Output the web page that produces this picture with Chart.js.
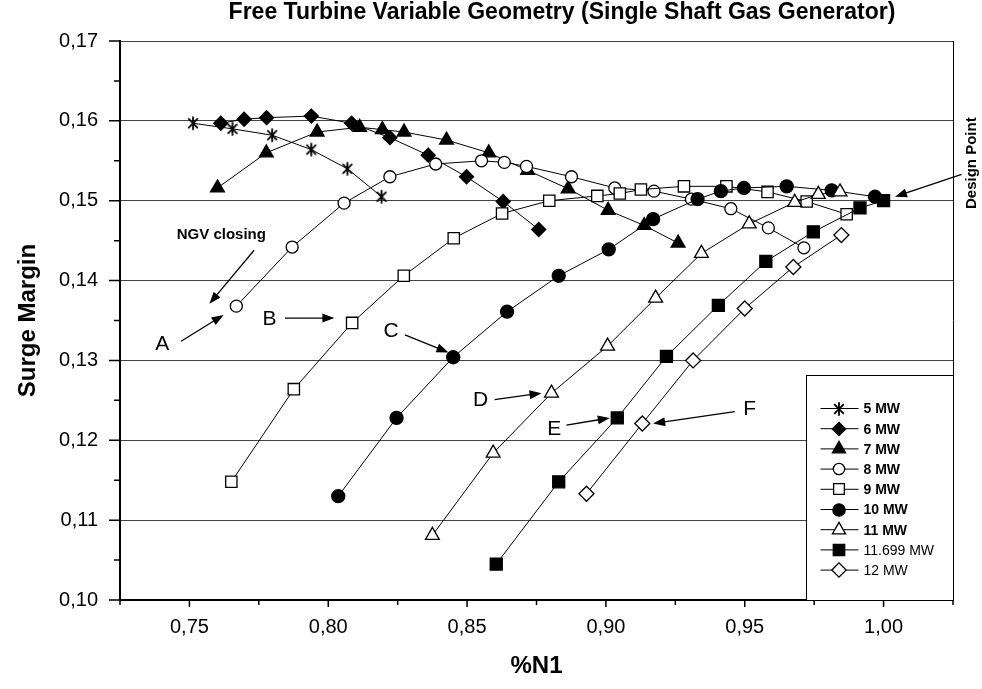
<!DOCTYPE html>
<html>
<head>
<meta charset="utf-8">
<title>Free Turbine Variable Geometry</title>
<script src="https://cdn.jsdelivr.net/npm/chart.js@4.4.1/dist/chart.umd.min.js"></script>
<style>
  html, body { margin: 0; padding: 0; background: #fff; }
</style>
</head>
<body>
<canvas id="myChart" width="982" height="689"></canvas>
<script>
// axis ticks
const n1Ticks = [0.75, 0.80, 0.85, 0.90, 0.95, 1.00];
const marginTicks = [0.10, 0.11, 0.12, 0.13, 0.14, 0.15, 0.16, 0.17];

// series
const seriesLabels = ['5 MW', '6 MW', '7 MW', '8 MW', '9 MW', '10 MW', '11 MW', '11.699 MW', '12 MW'];

const n1_5MW = [0.7513, 0.7655, 0.7798, 0.7939, 0.8069, 0.8192];
const sm_5MW = [0.1597, 0.1590, 0.1582, 0.1564, 0.1540, 0.1505];

const n1_6MW = [0.7613, 0.7697, 0.7778, 0.7939, 0.8084, 0.8222, 0.8360, 0.8498, 0.8630, 0.8758];
const sm_6MW = [0.1597, 0.1602, 0.1604, 0.1606, 0.1597, 0.1579, 0.1557, 0.1530, 0.1499, 0.1464];

const n1_7MW = [0.7601, 0.7777, 0.7960, 0.8113, 0.8195, 0.8273, 0.8426, 0.8578, 0.8718, 0.8864, 0.9008, 0.9138, 0.9260];
const sm_7MW = [0.1516, 0.1560, 0.1586, 0.1592, 0.1589, 0.1586, 0.1576, 0.1560, 0.1538, 0.1515, 0.1488, 0.1469, 0.1447];

const n1_8MW = [0.7669, 0.7870, 0.8057, 0.8222, 0.8387, 0.8552, 0.8634, 0.8714, 0.8876, 0.9032, 0.9173, 0.9308, 0.9450, 0.9585, 0.9713];
const sm_8MW = [0.1368, 0.1442, 0.1497, 0.1530, 0.1546, 0.1550, 0.1548, 0.1543, 0.1530, 0.1516, 0.1512, 0.1502, 0.1490, 0.1466, 0.1441];

const n1_9MW = [0.7651, 0.7876, 0.8086, 0.8272, 0.8452, 0.8626, 0.8796, 0.8969, 0.9050, 0.9126, 0.9281, 0.9434, 0.9582, 0.9723, 0.9867];
const sm_9MW = [0.1148, 0.1264, 0.1347, 0.1406, 0.1453, 0.1484, 0.1500, 0.1506, 0.1509, 0.1514, 0.1518, 0.1518, 0.1511, 0.1499, 0.1483];

const n1_10MW = [0.8036, 0.8246, 0.8450, 0.8644, 0.8830, 0.9010, 0.9170, 0.9330, 0.9414, 0.9497, 0.9651, 0.9813, 0.9969];
const sm_10MW = [0.1130, 0.1228, 0.1304, 0.1361, 0.1406, 0.1439, 0.1477, 0.1502, 0.1512, 0.1516, 0.1518, 0.1513, 0.1505];

const n1_11MW = [0.8375, 0.8594, 0.8804, 0.9006, 0.9179, 0.9344, 0.9516, 0.9680, 0.9765, 0.9843];
const sm_11MW = [0.1081, 0.1184, 0.1259, 0.1318, 0.1378, 0.1434, 0.1471, 0.1498, 0.1508, 0.1511];

const n1_11699MW = [0.8605, 0.8830, 0.9041, 0.9218, 0.9405, 0.9576, 0.9747, 0.9915, 1.0000];
const sm_11699MW = [0.1045, 0.1148, 0.1228, 0.1305, 0.1369, 0.1424, 0.1461, 0.1491, 0.1500];

const n1_12MW = [0.8930, 0.9131, 0.9314, 0.9500, 0.9675, 0.9848];
const sm_12MW = [0.1133, 0.1221, 0.1300, 0.1365, 0.1417, 0.1457];

const seriesN1 = [n1_5MW, n1_6MW, n1_7MW, n1_8MW, n1_9MW, n1_10MW, n1_11MW, n1_11699MW, n1_12MW];
const seriesSM = [sm_5MW, sm_6MW, sm_7MW, sm_8MW, sm_9MW, sm_10MW, sm_11MW, sm_11699MW, sm_12MW];

// asterisk marker (vertical + X)
function makeAsterisk() {
  const c = document.createElement('canvas');
  c.width = 16; c.height = 16;
  const g = c.getContext('2d');
  g.strokeStyle = '#000';
  g.lineWidth = 1.8;
  const a = 6.8, d = a * Math.SQRT1_2;
  g.beginPath();
  g.moveTo(8, 8 - a); g.lineTo(8, 8 + a);
  g.moveTo(8 - d, 8 - d); g.lineTo(8 + d, 8 + d);
  g.moveTo(8 - d, 8 + d); g.lineTo(8 + d, 8 - d);
  g.stroke();
  return c;
}
const asterisk = makeAsterisk();

const markers = [
  { style: asterisk, fill: '#000', r: 7 },
  { style: 'rectRot', fill: '#000', r: 7 },
  { style: 'triangle', fill: '#000', r: 8 },
  { style: 'circle', fill: '#fff', r: 6 },
  { style: 'rect', fill: '#fff', r: 8 },
  { style: 'circle', fill: '#000', r: 6.5 },
  { style: 'triangle', fill: '#fff', r: 8 },
  { style: 'rect', fill: '#000', r: 8.5 },
  { style: 'rectRot', fill: '#fff', r: 7.5 }
];
const boldLegend = [true, true, true, true, true, true, true, false, false];

const datasets = seriesLabels.map((label, i) => ({
  label: label,
  data: seriesN1[i].map((x, k) => ({ x: x, y: seriesSM[i][k] })),
  showLine: true,
  borderColor: '#000',
  borderWidth: 1,
  pointStyle: markers[i].style,
  pointRadius: markers[i].r,
  pointBackgroundColor: markers[i].fill,
  pointBorderColor: '#000',
  pointBorderWidth: 1.3,
  order: seriesLabels.length - i
}));

const notes = [
  { text: 'NGV closing', at: [0.7615, 0.1457], font: 'bold 15px Arial', from: [0.7733, 0.1438], to: [0.7572, 0.1371] },
  { text: 'A', at: [0.7402, 0.1320], font: '21px Arial', from: [0.7470, 0.1324], to: [0.7623, 0.1357] },
  { text: 'B', at: [0.7788, 0.1352], font: '21px Arial', from: [0.7844, 0.1353], to: [0.8022, 0.1353] },
  { text: 'C', at: [0.8226, 0.1337], font: '21px Arial', from: [0.8276, 0.1332], to: [0.8433, 0.1310] },
  { text: 'D', at: [0.8549, 0.1250], font: '21px Arial', from: [0.8599, 0.1251], to: [0.8768, 0.1259] },
  { text: 'E', at: [0.8814, 0.1214], font: '21px Arial', from: [0.8858, 0.1219], to: [0.9014, 0.1228] },
  { text: 'F', at: [0.9518, 0.1239], font: '21px Arial', from: [0.9464, 0.1236], to: [0.9170, 0.1221] },
  { text: 'Design Point', at: [1.0317, 0.1547], font: 'bold 15px Arial', rotate: true, from: [1.0281, 0.1533], to: [1.0041, 0.1505] }
];

function fmt(v) { return v.toFixed(2).replace('.', ','); }

function arrow(ctx, x1, y1, x2, y2) {
  const ang = Math.atan2(y2 - y1, x2 - x1);
  const hl = 12, hw = 4.5;
  ctx.beginPath();
  ctx.moveTo(x1, y1);
  ctx.lineTo(x2 - Math.cos(ang) * hl * 0.8, y2 - Math.sin(ang) * hl * 0.8);
  ctx.stroke();
  ctx.beginPath();
  ctx.moveTo(x2, y2);
  ctx.lineTo(x2 - Math.cos(ang) * hl - Math.sin(ang) * hw, y2 - Math.sin(ang) * hl + Math.cos(ang) * hw);
  ctx.lineTo(x2 - Math.cos(ang) * hl + Math.sin(ang) * hw, y2 - Math.sin(ang) * hl - Math.cos(ang) * hw);
  ctx.closePath();
  ctx.fill();
}

const decorations = {
  id: 'decorations',
  afterDraw(chart) {
    const ctx = chart.ctx;
    const xs = chart.scales.x, ys = chart.scales.y;
    const area = chart.chartArea;
    ctx.save();

    // title
    ctx.fillStyle = '#000';
    ctx.font = 'bold 23px Arial';
    ctx.textAlign = 'center';
    ctx.textBaseline = 'middle';
    ctx.fillText('Free Turbine Variable Geometry (Single Shaft Gas Generator)', 562, 13);

    // right border
    ctx.strokeStyle = '#000';
    ctx.lineWidth = 1;
    ctx.beginPath();
    ctx.moveTo(Math.round(area.right) + 0.5, area.top);
    ctx.lineTo(Math.round(area.right) + 0.5, area.bottom);
    ctx.stroke();

    // major and minor tick marks
    ctx.lineWidth = 1.5;
    ctx.beginPath();
    n1Ticks.forEach((v, i) => {
      const px = xs.getPixelForValue(v);
      ctx.moveTo(px, area.bottom); ctx.lineTo(px, area.bottom + 7);
      const mx = xs.getPixelForValue(v - 0.025);
      ctx.moveTo(mx, area.bottom); ctx.lineTo(mx, area.bottom + 5);
      if (i === n1Ticks.length - 1) {
        const ex = xs.getPixelForValue(v + 0.025);
        ctx.moveTo(ex, area.bottom); ctx.lineTo(ex, area.bottom + 5);
      }
    });
    marginTicks.forEach((v, i) => {
      const py = ys.getPixelForValue(v);
      ctx.moveTo(area.left, py); ctx.lineTo(area.left - 11, py);
      if (i > 0) {
        const my = ys.getPixelForValue(v - 0.005);
        ctx.moveTo(area.left, my); ctx.lineTo(area.left - 6, my);
      }
    });
    ctx.stroke();

    // notes and arrows
    ctx.lineWidth = 1.3;
    notes.forEach(n => {
      ctx.font = n.font;
      const tx = xs.getPixelForValue(n.at[0]), ty = ys.getPixelForValue(n.at[1]);
      if (n.rotate) {
        ctx.save();
        ctx.translate(tx, ty);
        ctx.rotate(-Math.PI / 2);
        ctx.fillText(n.text, 0, 0);
        ctx.restore();
      } else {
        ctx.fillText(n.text, tx, ty);
      }
      arrow(ctx, xs.getPixelForValue(n.from[0]), ys.getPixelForValue(n.from[1]),
        xs.getPixelForValue(n.to[0]), ys.getPixelForValue(n.to[1]));
    });

    // legend box
    const lw = 147, lh = 225;
    const lx = Math.round(area.right - lw) + 0.5, ly = Math.round(area.bottom - lh) + 0.5;
    ctx.fillStyle = '#fff';
    ctx.fillRect(lx, ly, lw, lh);
    ctx.strokeStyle = '#000';
    ctx.lineWidth = 1;
    ctx.strokeRect(lx, ly, lw, lh);
    ctx.textAlign = 'left';
    seriesLabels.forEach((label, i) => {
      const y = ly + 33 + i * 20.2;
      ctx.strokeStyle = '#000';
      ctx.lineWidth = 1;
      ctx.beginPath();
      ctx.moveTo(lx + 14, y); ctx.lineTo(lx + 52, y);
      ctx.stroke();
      ctx.fillStyle = markers[i].fill;
      ctx.lineWidth = 1.3;
      Chart.helpers.drawPoint(ctx, { pointStyle: markers[i].style, radius: markers[i].r * 0.95, rotation: 0, borderWidth: 1.3 }, Math.round(lx + 32), Math.round(y));
      ctx.fillStyle = '#000';
      ctx.font = (boldLegend[i] ? 'bold ' : '') + '14px Arial';
      ctx.fillText(label, lx + 57, y + 1);
    });

    ctx.restore();
  }
};

Chart.defaults.font.family = "Arial, 'Liberation Sans', Helvetica, sans-serif";
Chart.defaults.color = '#000';

var ctx = document.getElementById('myChart').getContext('2d');
var myChart = new Chart(ctx, {
  type: 'scatter',
  data: { datasets: datasets },
  options: {
    responsive: false,
    animation: false,
    layout: { padding: { top: 41, right: 29, left: 0, bottom: 0 } },
    plugins: {
      legend: { display: false },
      tooltip: { enabled: false }
    },
    scales: {
      x: {
        type: 'linear',
        min: 0.725,
        max: 1.025,
        afterBuildTicks: s => { s.ticks = n1Ticks.map(v => ({ value: v })); },
        afterFit: s => { s.height = 89; },
        ticks: { callback: v => fmt(v), font: { size: 20 }, padding: 15, maxRotation: 0, autoSkip: false },
        grid: { drawOnChartArea: false, drawTicks: false },
        border: { display: true, color: '#000', width: 2 },
        title: { display: true, text: '%N1', font: { size: 24, weight: 'bold' }, padding: { top: 0, bottom: 8 } }
      },
      y: {
        type: 'linear',
        min: 0.10,
        max: 0.17,
        afterBuildTicks: s => { s.ticks = marginTicks.map(v => ({ value: v })); },
        afterFit: s => { s.width = 120; },
        ticks: { callback: v => fmt(v), font: { size: 20 }, padding: 22, autoSkip: false },
        grid: { color: '#444', lineWidth: 1, drawTicks: false },
        border: { display: true, color: '#000', width: 2 },
        title: { display: true, text: 'Surge Margin', font: { size: 24, weight: 'bold' }, padding: { top: 14, bottom: 0 } }
      }
    }
  },
  plugins: [decorations]
});
</script>
</body>
</html>
